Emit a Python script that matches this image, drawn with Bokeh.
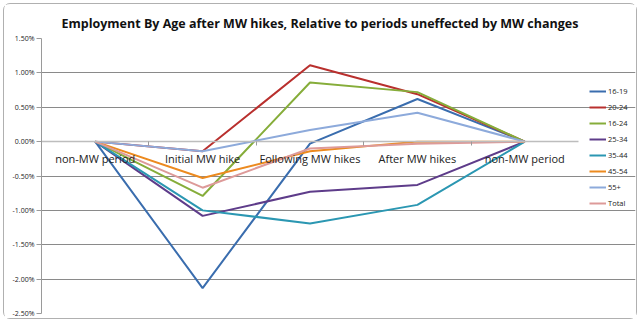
from bokeh.plotting import figure
from bokeh.models import (Range1d, LinearAxis, FixedTicker, PrintfTickFormatter,
                          Legend, LegendItem, ColumnDataSource)
from bokeh.embed import file_html
from bokeh.resources import INLINE

categories = ["non-MW period", "Initial MW hike", "Following MW hikes", "After MW hikes", "non-MW period"]
x_pos = [0.5, 1.5, 2.5, 3.5, 4.5]

series_names = ["16-19", "20-24", "16-24", "25-34", "35-44", "45-54", "55+", "Total"]
s_16_19 = [0.0, -2.13, -0.03, 0.62, 0.0]
s_20_24 = [0.0, -0.14, 1.11, 0.69, 0.0]
s_16_24 = [0.0, -0.79, 0.86, 0.72, 0.0]
s_25_34 = [0.0, -1.08, -0.73, -0.63, 0.0]
s_35_44 = [0.0, -1.00, -1.19, -0.92, 0.0]
s_45_54 = [0.0, -0.53, -0.14, 0.00, 0.0]
s_55p = [0.0, -0.14, 0.17, 0.42, 0.0]
s_total = [0.0, -0.67, -0.10, -0.03, 0.0]
series_values = [s_16_19, s_20_24, s_16_24, s_25_34, s_35_44, s_45_54, s_55p, s_total]
colors = ["#3A6DAE", "#B9302E", "#86AD3A", "#5E3C8A", "#2B97B2", "#EC8A1F", "#8DAADB", "#DD9A99"]

y_ticks = [-2.5, -2.0, -1.5, -1.0, -0.5, 0.0, 0.5, 1.0, 1.5]

# frame spans x=40..634; the category area spans 40..577 (x 0..5)
x_end = 5 * (634 - 40) / (577 - 40)

p = figure(width=634, height=316, output_backend="svg", toolbar_location=None,
           x_range=Range1d(0, x_end), y_range=Range1d(-2.5, 1.5),
           x_axis_location=None, y_axis_location=None,
           min_border_left=37, min_border_right=3, min_border_top=34, min_border_bottom=7,
           title="Employment By Age after MW hikes, Relative to periods uneffected by MW changes")
p.margin = (3, 3, 3, 3)
p.styles = {"border": "1px solid #B0B0B0", "border-radius": "7px", "box-sizing": "border-box"}
p.title.align = "left"
p.title.text_font = "Open Sans"
p.title.text_font_size = "12.5px"
p.title.text_font_style = "bold"
p.title.text_color = "#111111"
p.title.offset = 20
p.title.standoff = 13
p.outline_line_color = None
p.background_fill_color = "white"
p.border_fill_color = "white"

# y axis
yaxis = LinearAxis(ticker=FixedTicker(ticks=y_ticks, minor_ticks=[]),
                   formatter=PrintfTickFormatter(format="%.2f%%"))
yaxis.axis_line_color = "#9A9A9A"
yaxis.major_tick_line_color = "#9A9A9A"
yaxis.major_tick_out = 5
yaxis.major_tick_in = 0
yaxis.major_label_text_font = "Open Sans"
yaxis.major_label_text_font_size = "7px"
yaxis.major_label_text_color = "#222222"
yaxis.major_label_standoff = 2
p.add_layout(yaxis, "left")

# x axis crossing at zero
xaxis = LinearAxis(ticker=FixedTicker(ticks=x_pos, minor_ticks=[1, 2, 3, 4]),
                   major_label_overrides={x: c for x, c in zip(x_pos, categories)},
                   bounds=(0, 5))
xaxis.fixed_location = 0
xaxis.axis_line_color = "#BDBDBD"
xaxis.axis_line_width = 1.5
xaxis.major_tick_line_color = None
xaxis.minor_tick_line_color = "#9A9A9A"
xaxis.minor_tick_out = 4
xaxis.minor_tick_in = 0
xaxis.major_label_text_font = "Open Sans"
xaxis.major_label_text_font_size = "11px"
xaxis.major_label_text_color = "#222222"
xaxis.major_label_standoff = 3
p.add_layout(xaxis, "below")

p.xgrid.grid_line_color = None
p.ygrid.ticker = FixedTicker(ticks=[t for t in y_ticks if t != 0.0])
p.ygrid.grid_line_color = "#8A8A8A"
p.ygrid.grid_line_width = 1
p.ygrid.bounds = (0, 5)

items = []
for name, vals, col in zip(series_names, series_values, colors):
    src = ColumnDataSource(dict(x=x_pos, y=vals))
    r = p.line("x", "y", source=src, line_color=col, line_width=2)
    items.append(LegendItem(label=name, renderers=[r]))

legend = Legend(items=items, location=(548, 105))
legend.label_text_font = "Open Sans"
legend.label_text_font_size = "7.5px"
legend.label_text_color = "#222222"
legend.glyph_width = 17
legend.glyph_height = 10
legend.label_height = 10
legend.spacing = 6
legend.padding = 0
legend.margin = 0
legend.label_standoff = 2
legend.border_line_color = None
legend.background_fill_alpha = 0
p.add_layout(legend, "center")

open("out.html", "w").write(file_html(p, INLINE))
